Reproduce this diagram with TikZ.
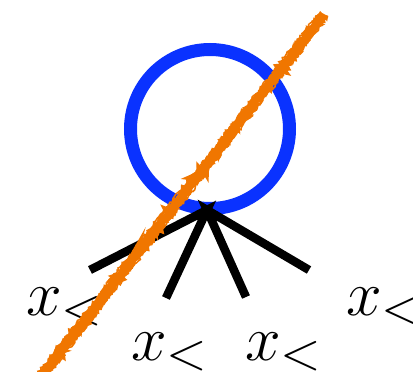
\documentclass[tikz,border=0pt]{standalone}
\usetikzlibrary{decorations.pathmorphing}
\definecolor{ringblue}{RGB}{10,50,255}
\definecolor{crossorange}{RGB}{240,118,0}
\newcommand{\biglbl}{\scalebox{2.572}{\fontsize{24.88}{30}\selectfont$x_<$}}
\begin{document}
\begin{tikzpicture}[x=1pt,y=-1pt,
  ringstyle/.style={draw=ringblue, line width=13pt, circle, minimum size=159pt, inner sep=0pt},
  edgestyle/.style={line width=8.5pt, black},
  lbl/.style={anchor=base west, inner sep=0pt},
  scribble/.style={crossorange, decorate, decoration={random steps, segment length=2pt, amplitude=1.6pt}}]
\useasboundingbox (0,0) rectangle (413,372);
\clip (0,0) rectangle (413,372);
\node[ringstyle] (ring) at (210,129) {};
\coordinate (apex) at (207,210);
\coordinate (e1) at (90,270);
\coordinate (e2) at (166,298);
\coordinate (e3) at (246,297);
\coordinate (e4) at (309,270);
\draw[edgestyle] (e1) -- (apex) -- (e2);
\draw[edgestyle] (e3) -- (apex) -- (e4);
\node[lbl] (l1) at (26,315) {\biglbl};
\node[lbl] (l2) at (131,360) {\biglbl};
\node[lbl] (l3) at (245,360) {\biglbl};
\node[lbl] (l4) at (346,315) {\biglbl};
\pgfmathsetseed{7}
\coordinate (s) at (324,14);
\coordinate (t) at (40,378);
\draw[scribble, line width=8pt] (s) -- (t);
\draw[scribble, line width=2.5pt] ([shift={(3,1.5)}]s) -- ([shift={(3,1.5)}]t);
\draw[scribble, line width=2.5pt] ([shift={(-3,-1.5)}]s) -- ([shift={(-3,-1.5)}]t);
\draw[scribble, line width=1.5pt] ([shift={(4,2.5)}]s) -- ([shift={(4,2.5)}]t);
\draw[scribble, line width=1.5pt] ([shift={(-4,-2.5)}]s) -- ([shift={(-4,-2.5)}]t);
\end{tikzpicture}
\end{document}
